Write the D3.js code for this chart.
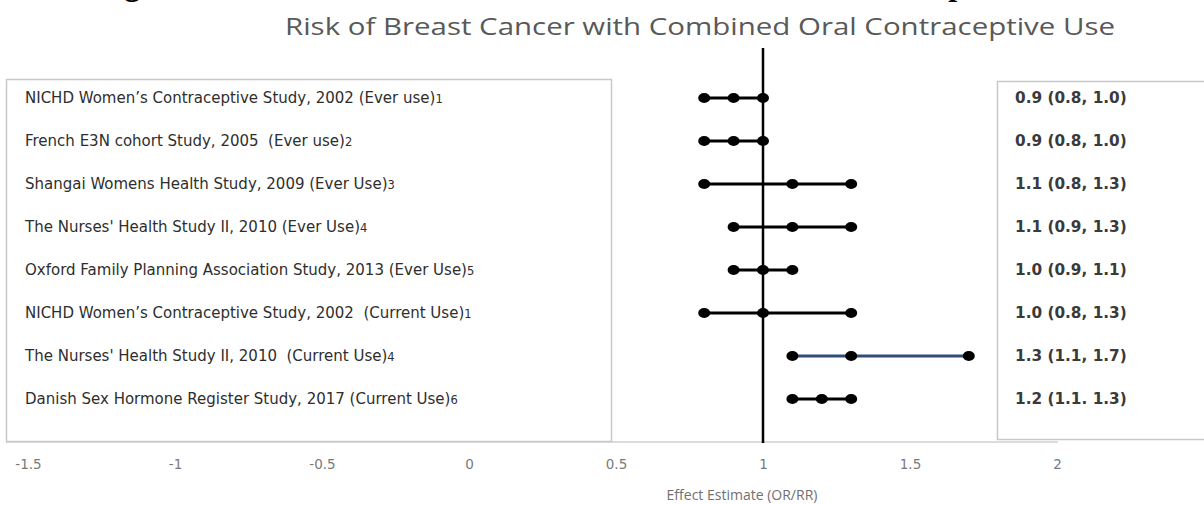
<!DOCTYPE html>
<html>
<head>
<meta charset="utf-8">
<script src="https://cdn.jsdelivr.net/npm/d3@7"></script>
<style>
  html, body { margin: 0; padding: 0; background: #fff; }
  svg { display: block; }
  text { white-space: pre; }
</style>
</head>
<body>
<svg id="chart" width="1204" height="505"></svg>
<script>
const captionText = "Figure 1: Risk of Breast Cancer with Combined Oral Contraceptive Use";
const titleText = "Risk of Breast Cancer with Combined Oral Contraceptive Use";
const axisTitle = "Effect Estimate (OR/RR)";

const studies = [
  "NICHD Women\u2019s Contraceptive Study, 2002 (Ever use)",
  "French E3N cohort Study, 2005  (Ever use)",
  "Shangai Womens Health Study, 2009 (Ever Use)",
  "The Nurses' Health Study II, 2010 (Ever Use)",
  "Oxford Family Planning Association Study, 2013 (Ever Use)",
  "NICHD Women\u2019s Contraceptive Study, 2002  (Current Use)",
  "The Nurses' Health Study II, 2010  (Current Use)",
  "Danish Sex Hormone Register Study, 2017 (Current Use)"
];
const refs = ["1", "2", "3", "4", "5", "1", "4", "6"];
const estimates = [0.9, 0.9, 1.1, 1.1, 1.0, 1.0, 1.3, 1.2];
const lower =     [0.8, 0.8, 0.8, 0.9, 0.9, 0.8, 1.1, 1.1];
const upper =     [1.0, 1.0, 1.3, 1.3, 1.1, 1.3, 1.7, 1.3];
const ciLabels = [
  "0.9 (0.8, 1.0)", "0.9 (0.8, 1.0)", "1.1 (0.8, 1.3)", "1.1 (0.9, 1.3)",
  "1.0 (0.9, 1.1)", "1.0 (0.8, 1.3)", "1.3 (1.1, 1.7)", "1.2 (1.1. 1.3)"
];
const lineColors = ["#000", "#000", "#000", "#000", "#000", "#000", "#2f4f78", "#000"];
const xTicks = [-1.5, -1, -0.5, 0, 0.5, 1, 1.5, 2];
const refValue = 1;

const svg = d3.select("#chart");
const x = d3.scaleLinear().domain([-1.5, 2]).range([28, 1057]);
const y = d3.scalePoint().domain(d3.range(studies.length)).range([98, 399]);

// clipped caption (only descenders visible)
svg.append("text")
  .attr("x", 96).attr("y", -5.5)
  .attr("font-family", "Liberation Serif, Times New Roman, serif")
  .attr("font-weight", "bold")
  .attr("font-size", 31.8)
  .attr("fill", "#000")
  .text(captionText);

// title
svg.append("text")
  .attr("x", 700).attr("y", 35)
  .attr("text-anchor", "middle")
  .attr("font-family", "Open Sans, sans-serif")
  .attr("font-size", 24)
  .attr("fill", "#595959")
  .attr("textLength", 830)
  .attr("lengthAdjust", "spacingAndGlyphs")
  .text(titleText);

// axis baseline
svg.append("line")
  .attr("x1", 6).attr("x2", 1058).attr("y1", 442).attr("y2", 442)
  .attr("stroke", "#d0d0d0").attr("stroke-width", 1.5);

// x axis labels
const axis = d3.axisBottom(x).tickValues(xTicks).tickSize(0).tickPadding(0)
  .tickFormat(d => d3.format("")(d).replace("\u2212", "-"));
const gAxis = svg.append("g").attr("transform", "translate(0,459)").call(axis);
gAxis.select(".domain").remove();
gAxis.selectAll("text")
  .attr("font-family", "DejaVu Sans, Verdana, sans-serif")
  .attr("font-size", 13.5)
  .attr("fill", "#7a7a7a");

svg.append("text")
  .attr("x", 742).attr("y", 500)
  .attr("text-anchor", "middle")
  .attr("font-family", "Open Sans, sans-serif")
  .attr("font-size", 14)
  .attr("fill", "#707070")
  .text(axisTitle);

// left label box
svg.append("rect")
  .attr("x", 6.5).attr("y", 79.5).attr("width", 605).attr("height", 362)
  .attr("fill", "#fff").attr("stroke", "#c8c8c8").attr("stroke-width", 1.5);

// right label box
svg.append("rect")
  .attr("x", 997.5).attr("y", 81.5).attr("width", 230).attr("height", 358)
  .attr("fill", "#fff").attr("stroke", "#c8c8c8").attr("stroke-width", 1.5);

// reference line
svg.append("line")
  .attr("x1", x(refValue)).attr("x2", x(refValue))
  .attr("y1", 48).attr("y2", 443)
  .attr("stroke", "#000").attr("stroke-width", 2.5);

// CI lines
const rows = svg.append("g").selectAll("g").data(d3.range(studies.length)).join("g");
rows.append("line")
  .attr("x1", i => x(lower[i])).attr("x2", i => x(upper[i]))
  .attr("y1", i => y(i)).attr("y2", i => y(i))
  .attr("stroke", i => lineColors[i]).attr("stroke-width", 3);
rows.selectAll("ellipse")
  .data(i => [lower[i], estimates[i], upper[i]].map(v => ({v, i})))
  .join("ellipse")
  .attr("cx", d => x(d.v)).attr("cy", d => y(d.i))
  .attr("rx", 6).attr("ry", 5)
  .attr("fill", "#000");

// study labels
const lab = svg.append("g").selectAll("text").data(d3.range(studies.length)).join("text")
  .attr("x", 25).attr("y", i => y(i) + 5)
  .attr("font-family", "DejaVu Sans, Verdana, sans-serif")
  .attr("font-size", 15)
  .attr("fill", "#2e2e2e");
lab.append("tspan").text(i => studies[i]);
lab.append("tspan").attr("font-size", 11.5).text(i => refs[i]);

// CI labels
svg.append("g").selectAll("text").data(d3.range(ciLabels.length)).join("text")
  .attr("x", 1015).attr("y", i => y(i) + 5)
  .attr("font-family", "DejaVu Sans, Verdana, sans-serif")
  .attr("font-size", 15.3)
  .attr("font-weight", "bold")
  .attr("fill", "#3a3a3a")
  .text(i => ciLabels[i]);
</script>
</body>
</html>
